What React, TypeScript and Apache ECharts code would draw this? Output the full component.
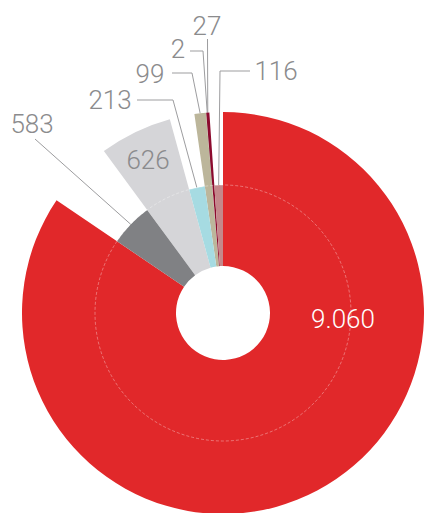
import React, { useEffect, useRef } from "react";
import * as echarts from "echarts";

// ---- data ----
const categories = ["S1", "S2", "S3", "S4", "S5", "S6", "S7", "S8"];
const values = [9060, 583, 626, 213, 99, 2, 27, 116];
// which ring each slice reaches: "outer" = long wedge, "inner" = short wedge
const ringOf = ["outer", "inner", "outer", "inner", "outer", "inner", "outer", "inner"];
const colors = ["#e1282a", "#808184", "#d5d5d8", "#a6dbe2", "#bcb69b", "#e8e3d1", "#8c0b2e", "#c4888b"];

// ---- layout ----
const CENTER = [223, 313];
const R_HOLE = 47;
const R_INNER = 128;
const R_OUTER = 201;
const LABEL_GRAY = "#8b8b8d";
const LINE_GRAY = "#9d9d9f";

// label placement per slice: text centre and bend points of the leader line
// (a null x in a bend means "same x as the anchor on the slice edge")
const labelSpots: Record<number, { x: number; y: number; color: string; bends: (number | null)[][] | null }> = {
  0: { x: 343, y: 319, color: "#ffffff", bends: null },
  1: { x: 32, y: 124, color: LABEL_GRAY, bends: [[35, 139]] },
  2: { x: 148, y: 160, color: LABEL_GRAY, bends: null },
  3: { x: 110, y: 100, color: LABEL_GRAY, bends: [[173, 100], [137, 100]] },
  4: { x: 150, y: 74, color: LABEL_GRAY, bends: [[192, 73], [172, 73]] },
  5: { x: 178, y: 49, color: LABEL_GRAY, bends: [[203, 51], [190, 51]] },
  6: { x: 207, y: 26, color: LABEL_GRAY, bends: [[207.5, 39]] },
  7: { x: 276, y: 71, color: LABEL_GRAY, bends: [[220, 71], [250, 71]] },
};

function fmt(v: number): string {
  return String(v).replace(/\B(?=(\d{3})+(?!\d))/g, ".");
}

function buildData(ring: string) {
  return values.map((v, i) => {
    const mine = ringOf[i] === ring;
    const spot = labelSpots[i];
    const hasLine = !!(spot && spot.bends);
    return {
      name: categories[i],
      value: v,
      itemStyle: { color: mine ? colors[i] : "rgba(0,0,0,0)", borderWidth: 0 },
      label: {
        show: mine,
        position: hasLine ? "outside" : "inside",
        color: spot ? spot.color : LABEL_GRAY,
      },
      labelLine: { show: mine && hasLine },
    };
  });
}

function labelLayout(params: any) {
  const spot = labelSpots[params.dataIndex];
  if (!spot) return {};
  const out: any = { x: spot.x, y: spot.y, align: "center", verticalAlign: "middle" };
  const a = params.labelLinePoints && params.labelLinePoints[0];
  if (spot.bends && a) {
    out.labelLinePoints = [a, ...spot.bends.map((b) => [b[0] == null ? a[0] : b[0], b[1]])];
  }
  return out;
}

function makeSeries(ring: string, outerR: number) {
  return {
    type: "pie",
    center: CENTER,
    radius: [R_HOLE, outerR],
    startAngle: 90,
    clockwise: true,
    silent: true,
    avoidLabelOverlap: false,
    minShowLabelAngle: 0,
    label: {
      fontFamily: "Roboto",
      fontWeight: 300,
      fontSize: 26,
      formatter: (p: any) => fmt(p.value),
    },
    labelLine: { lineStyle: { color: LINE_GRAY, width: 1 }, length: 10, length2: 10 },
    labelLayout,
    emphasis: { disabled: true },
    data: buildData(ring),
  };
}

export default function App() {
  const ref = useRef<HTMLDivElement>(null);
  useEffect(() => {
    if (!ref.current) return;
    const chart = echarts.init(ref.current, null, { renderer: "svg" });
    chart.setOption({
      animation: false,
      backgroundColor: "#ffffff",
      series: [makeSeries("outer", R_OUTER), makeSeries("inner", R_INNER)],
      graphic: [
        {
          type: "circle",
          z: 3,
          silent: true,
          shape: { cx: CENTER[0], cy: CENTER[1], r: R_INNER },
          style: { fill: "none", stroke: "rgba(255,255,255,0.35)", lineWidth: 1, lineDash: [3, 2] },
        },
      ],
    });
    return () => chart.dispose();
  }, []);
  return (
    <div
      ref={ref}
      style={{ position: "absolute", left: 0, top: 0, width: 424, height: 513 }}
    />
  );
}
